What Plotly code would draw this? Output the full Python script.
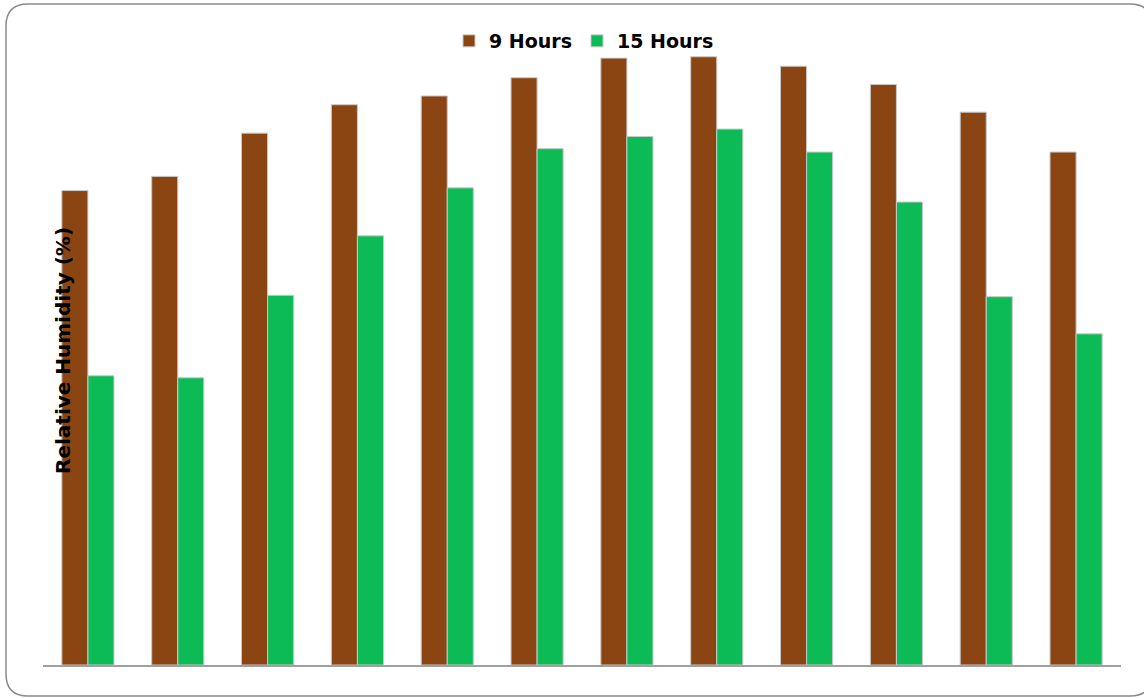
import plotly.graph_objects as go

# Monthly mean relative humidity (%) at two observation hours
months = ["Jan", "Feb", "Mar", "Apr", "May", "Jun",
          "Jul", "Aug", "Sep", "Oct", "Nov", "Dec"]
rh_9h = [70.2, 72.3, 78.7, 82.9, 84.2, 86.9, 89.8, 90.0, 88.6, 85.9, 81.8, 75.9]
rh_15h = [42.8, 42.5, 54.7, 63.5, 70.6, 76.4, 78.2, 79.3, 75.9, 68.5, 54.5, 49.0]

W, H = 1144, 698
ML, MR, MT, MB = 43, 23, 50, 33
PW, PH = W - ML - MR, H - MT - MB
FONT = "DejaVu Sans"


def px_x(p):
    return (p - ML) / PW


def px_y(p):
    return (H - MB - p) / PH


fig = go.Figure()
fig.add_trace(go.Bar(
    x=months, y=rh_9h, name="9 Hours",
    marker=dict(color="#8B4513", line=dict(color="#c8c8c8", width=1)),
))
fig.add_trace(go.Bar(
    x=months, y=rh_15h, name="15 Hours",
    marker=dict(color="#0cbb56", line=dict(color="#c8c8c8", width=1)),
))

# rounded frame around the chart
x0, x1, y0, y1 = px_x(6), px_x(1152), px_y(4), px_y(696)
rx, ry = 22 / PW, 22 / PH
path = (
    f"M {x0 + rx},{y0} L {x1 - rx},{y0} Q {x1},{y0} {x1},{y0 - ry} "
    f"L {x1},{y1 + ry} Q {x1},{y1} {x1 - rx},{y1} "
    f"L {x0 + rx},{y1} Q {x0},{y1} {x0},{y1 + ry} "
    f"L {x0},{y0 - ry} Q {x0},{y0} {x0 + rx},{y0} Z"
)

fig.update_layout(
    width=W, height=H,
    margin=dict(l=ML, r=MR, t=MT, b=MB),
    paper_bgcolor="white", plot_bgcolor="white",
    barmode="group", bargap=0.42, bargroupgap=0,
    font=dict(family=FONT, color="black"),
    showlegend=True,
    legend=dict(
        orientation="h", x=px_x(584), xanchor="center", y=px_y(41), yanchor="middle",
        font=dict(size=19, family=FONT, weight="bold"),
        traceorder="normal", bgcolor="rgba(0,0,0,0)",
    ),
    xaxis=dict(
        showticklabels=False, ticks="", showgrid=False, zeroline=False,
        showline=True, linecolor="#a0a0a0", linewidth=2,
    ),
    yaxis=dict(
        range=[0, 91], showticklabels=False, ticks="", showgrid=False,
        zeroline=False, showline=False,
    ),
    shapes=[dict(
        type="path", path=path, xref="paper", yref="paper",
        line=dict(color="#8a8a8a", width=1.5), fillcolor="rgba(0,0,0,0)",
        layer="above",
    )],
    annotations=[dict(
        text="<b>Relative Humidity (%)</b>", textangle=-90,
        xref="paper", yref="paper", x=px_x(63), y=px_y(351),
        xanchor="center", yanchor="middle", showarrow=False,
        font=dict(size=20, family=FONT, color="black"),
    )],
)

fig.write_html("out.html", config={"displayModeBar": False})
